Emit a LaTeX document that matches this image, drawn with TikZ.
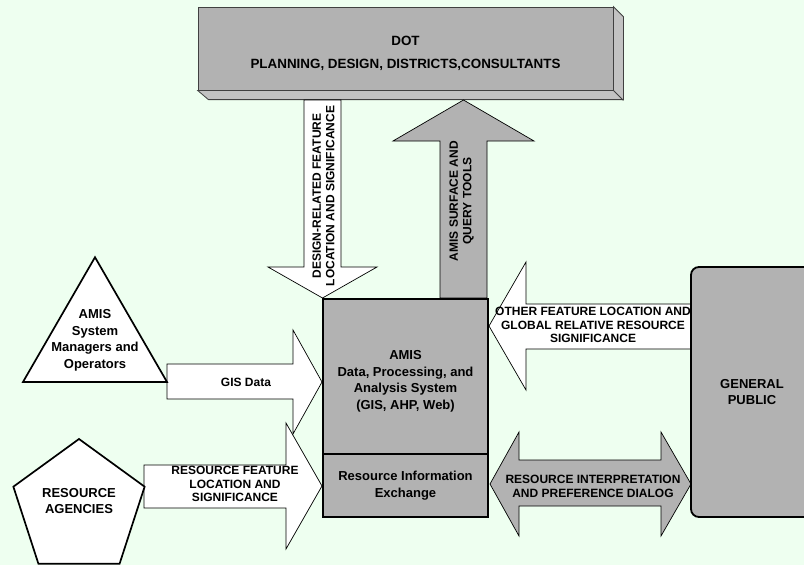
\documentclass[tikz,border=0pt]{standalone}
\usepackage{fontspec}
\setmainfont{Liberation Sans}
\usetikzlibrary{shapes.geometric}
\definecolor{bggreen}{RGB}{238,255,240}
\definecolor{boxgray}{RGB}{178,178,178}
\definecolor{bevelgray}{RGB}{194,194,194}
\tikzset{
  boxtext/.style = {font=\bfseries\fontsize{13}{16.6}\selectfont, align=center, inner sep=0pt},
  arrowtext/.style = {font=\bfseries\fontsize{12}{13.5}\selectfont, align=center, inner sep=0pt},
  whiteflow/.style = {draw=black, fill=white, line width=0.7pt},
  grayflow/.style = {draw=black, fill=boxgray, line width=0.7pt},
  dotface/.style = {draw=black!75, fill=boxgray, line width=0.8pt, inner sep=0pt,
    minimum width=415pt, minimum height=83pt},
  amisbox/.style = {draw=black, fill=boxgray, line width=2.8pt, inner sep=0pt, minimum width=165pt},
  actor/.style = {draw=black, fill=white, line width=1.7pt, inner sep=0pt, regular polygon}
}

\begin{document}
\begin{tikzpicture}[x=1pt,y=-1pt]
  % canvas
  \path[use as bounding box, fill=bggreen] (0,0) rectangle (804,565);
  \clip (0,0) rectangle (804,565);
  % DOT block with its bevel
  \node[dotface] (dot) at (405.5,48.5) {};
  \filldraw[fill=bevelgray, draw=black!75, line width=0.8pt]
    (dot.north east) -- ++(10,10) -- ++(0,83) -- ++(-415,0) -- (dot.south west)
    -- (dot.south east) -- cycle;
  \draw[black!75, line width=0.8pt] (dot.south east) -- ++(10,10);
  \node[boxtext, font=\bfseries\fontsize{13.4}{16.6}\selectfont, yshift=-5pt] (dot text)
    at (dot.center) {DOT\\[6pt]PLANNING, DESIGN, DISTRICTS,CONSULTANTS};
  % design-related feature arrow (down)
  \draw[whiteflow] (304,100) -- (341,100) -- (341,267) -- (377,267) -- (322.5,298)
    -- (268,267) -- (304,267) -- cycle;
  \node[arrowtext, rotate=90] (design) at (323.5,196)
    {DESIGN-RELATED FEATURE\\LOCATION AND SIGNIFICANCE};
  % surface and query tools arrow (up)
  \draw[grayflow] (440,298) -- (440,141) -- (393,141) -- (463.5,100) -- (534,141)
    -- (487,141) -- (487,298) -- cycle;
  \node[arrowtext, rotate=90] (query) at (461.5,201) {AMIS SURFACE AND\\QUERY TOOLS};
  % resource feature arrow
  \draw[whiteflow] (144,465) -- (286,465) -- (286,423) -- (322,486) -- (286,549)
    -- (286,508) -- (144,508) -- cycle;
  \node[arrowtext] (feature) at (235,484)
    {RESOURCE FEATURE\\LOCATION AND\\SIGNIFICANCE};
  % GIS data arrow
  \draw[whiteflow] (167,364) -- (293,364) -- (293,330) -- (322,382) -- (293,434)
    -- (293,399) -- (167,399) -- cycle;
  \node[arrowtext] (gis) at (246,382) {GIS Data};
  % other feature arrow (left)
  \draw[whiteflow] (691,304) -- (526,304) -- (526,262) -- (489,326) -- (526,390)
    -- (526,349) -- (691,349) -- cycle;
  \node[arrowtext] (other) at (593,325)
    {OTHER FEATURE LOCATION AND\\GLOBAL RELATIVE RESOURCE\\SIGNIFICANCE};
  % interpretation dialog (both ways)
  \draw[grayflow] (490,484) -- (519,432) -- (519,460) -- (661,460) -- (661,432)
    -- (691,484) -- (661,536) -- (661,506) -- (519,506) -- (519,536) -- cycle;
  \node[arrowtext] (dialog) at (593,486.5)
    {RESOURCE INTERPRETATION\\AND PREFERENCE DIALOG};
  % AMIS system
  \node[amisbox, minimum height=155pt] (amis) at (405.5,376.5) {};
  \node[boxtext, yshift=-5pt] (amis text) at (amis.center)
    {AMIS\\Data, Processing, and\\Analysis System\\(GIS, AHP, Web)};
  \node[amisbox, minimum height=63pt, boxtext, line width=2.8pt] (exchange) at (405.5,485.5)
    {Resource Information\\Exchange};
  % general public
  \node[draw=black, fill=boxgray, line width=1.8pt, rounded corners=8pt, boxtext,
    minimum width=122pt, minimum height=250pt] (public) at (752,392) {GENERAL\\PUBLIC};
  % system managers
  \node[actor, regular polygon sides=3, minimum size=166.3pt] (managers) at (95,340.4) {};
  \node[boxtext] (managers text) at (managers.center)
    {AMIS\\System\\Managers and\\Operators};
  % resource agencies
  \node[actor, regular polygon sides=5, minimum size=138pt] (agencies) at (79,508) {};
  \node[boxtext, yshift=7pt] (agencies text) at (agencies.center) {RESOURCE\\AGENCIES};
\end{tikzpicture}
\end{document}
